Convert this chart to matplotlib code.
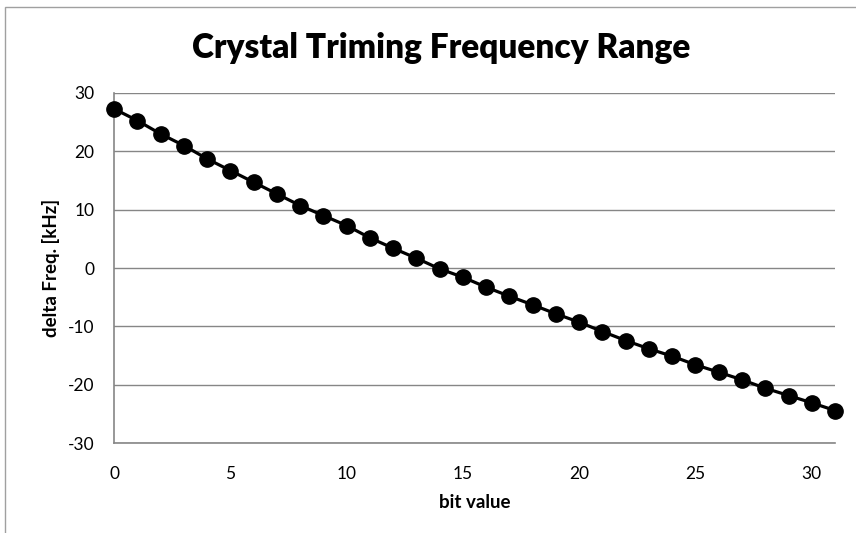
import matplotlib
matplotlib.use("Agg")
import matplotlib.pyplot as plt
from matplotlib.patches import Rectangle

# data
bits = list(range(32))
delta_khz = [27.25, 25.24, 22.96, 20.97, 18.69, 16.69, 14.69, 12.69,
             10.70, 8.98, 7.27, 5.17, 3.39, 1.68, -0.14, -1.57,
             -3.28, -4.83, -6.30, -7.84, -9.27, -10.87, -12.41, -13.83,
             -15.09, -16.57, -17.83, -19.13, -20.57, -21.82, -23.07, -24.39]
xticks = [0, 5, 10, 15, 20, 25, 30]
yticks = [-30, -20, -10, 0, 10, 20, 30]

plt.rcParams['font.family'] = ['Lato', 'DejaVu Sans']
plt.rcParams['axes.unicode_minus'] = False
grid_col = '#868686'

fig = plt.figure(figsize=(8.56, 5.33), dpi=100)
ax = fig.add_axes([0.1332, 0.1683, 0.8423, 0.6577])

ax.plot(bits, delta_khz, color='black', lw=2.3, marker='o', ms=11,
        clip_on=False, zorder=3)

ax.set_xlim(0, 31)
ax.set_ylim(-30, 30)
ax.set_xticks(xticks)
ax.set_yticks(yticks)
ax.yaxis.grid(True, color=grid_col, lw=1)
ax.set_axisbelow(True)
ax.tick_params(length=0, labelsize=12.5, pad=14)
ax.tick_params(axis='x', pad=16)
for s in ['top', 'right']:
    ax.spines[s].set_visible(False)
for s in ['left', 'bottom']:
    ax.spines[s].set_color(grid_col)
    ax.spines[s].set_linewidth(1.2)

ax.set_xlabel('bit value', fontsize=13.5, fontweight='bold', labelpad=9)
ax.set_ylabel('delta Freq. [kHz]', fontsize=13.5, fontweight='bold', labelpad=6)
fig.text(0.515, 0.91, 'Crystal Triming Frequency Range', ha='center',
         va='center', fontsize=24, fontweight='heavy')

# chart frame, cut by the image edges
fig.patches.append(Rectangle((5 / 856, -0.1), 1.2, (533 - 7) / 533 + 0.1,
                             transform=fig.transFigure, fill=False,
                             edgecolor='#a0a0a0', lw=1))

fig.savefig('out.png', dpi=100)
